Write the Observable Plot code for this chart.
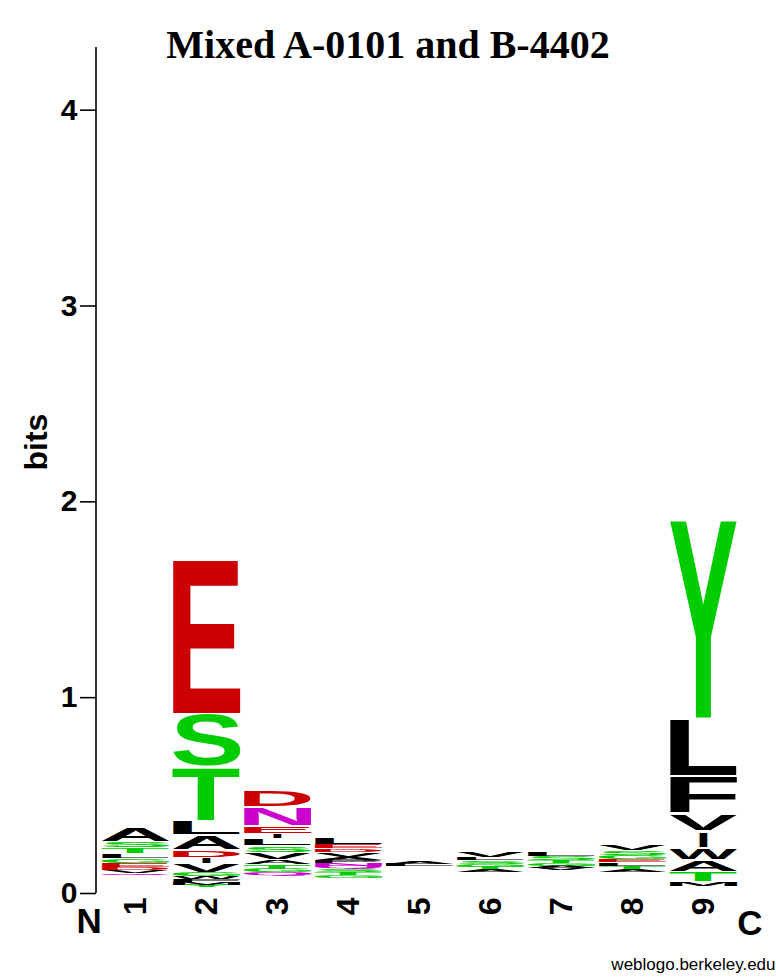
<!DOCTYPE html>
<html>
<head>
<meta charset="utf-8">
<script src="https://cdn.jsdelivr.net/npm/d3@7"></script>
<script src="https://cdn.jsdelivr.net/npm/@observablehq/plot@0.6"></script>
<style>
  body { margin: 0; background: #fff; }
  #chart svg { display: block; }
</style>
</head>
<body>
<div id="chart"></div>
<script>
// Sequence logo: information content (bits) of each residue at positions 1-9.
// Each column lists residues from the bottom of the stack to the top.
const positions = [1, 2, 3, 4, 5, 6, 7, 8, 9];

const letters1 = ["C","W","H","M","Y","F","N","R","K","P","I","Q","V","D","E","G","L","T","S","A"];
const bits1    = [0.006,0.007,0.007,0.008,0.008,0.008,0.008,0.008,0.009,0.009,0.009,0.012,0.016,0.018,0.020,0.022,0.026,0.029,0.032,0.075];

const letters2 = ["C","H","R","P","K","N","Q","Y","M","F","W","G","V","I","D","A","L","T","S","E"];
const bits2    = [0.002,0.003,0.003,0.003,0.004,0.004,0.010,0.012,0.012,0.015,0.018,0.020,0.045,0.030,0.040,0.075,0.072,0.276,0.270,0.787];

const letters3 = ["K","R","M","P","F","W","Y","H","C","Q","G","T","A","V","S","L","I","E","N","D"];
const bits3    = [0.010,0.010,0.010,0.010,0.010,0.010,0.010,0.009,0.009,0.015,0.020,0.022,0.025,0.035,0.035,0.040,0.022,0.040,0.098,0.090];

const letters4 = ["C","W","M","H","Y","R","K","F","I","G","T","S","Q","N","P","A","V","D","E","L"];
const bits4    = [0.006,0.007,0.008,0.008,0.008,0.009,0.009,0.010,0.010,0.015,0.016,0.016,0.016,0.016,0.014,0.016,0.024,0.018,0.020,0.040];

const letters5 = ["C","W","H","M","Y","F","N","Q","R","K","P","I","V","D","E","G","S","T","L","A"];
const bits5    = [0.006,0.007,0.007,0.007,0.007,0.007,0.007,0.008,0.008,0.008,0.008,0.008,0.008,0.008,0.008,0.008,0.009,0.009,0.011,0.012];

const letters6 = ["C","W","H","M","Y","F","N","Q","R","K","P","I","D","E","A","T","G","S","L","V"];
const bits6    = [0.006,0.007,0.007,0.007,0.007,0.007,0.008,0.008,0.008,0.008,0.008,0.009,0.009,0.009,0.011,0.013,0.016,0.018,0.015,0.030];

const letters7 = ["C","W","H","M","Y","F","N","Q","R","K","P","I","D","E","V","A","G","T","S","L"];
const bits7    = [0.007,0.007,0.008,0.008,0.008,0.008,0.008,0.008,0.009,0.009,0.009,0.009,0.009,0.010,0.011,0.011,0.013,0.016,0.020,0.022];

const letters8 = ["C","W","H","M","Y","F","N","Q","R","K","P","I","D","A","T","L","E","G","S","V"];
const bits8    = [0.007,0.007,0.008,0.008,0.008,0.008,0.008,0.008,0.008,0.009,0.009,0.009,0.010,0.016,0.016,0.016,0.018,0.020,0.022,0.030];

const letters9 = ["P","E","D","H","R","K","N","Q","C","G","S","M","T","A","W","I","V","F","L","Y"];
const bits9    = [0.003,0.003,0.003,0.003,0.003,0.004,0.003,0.003,0.003,0.004,0.004,0.020,0.051,0.062,0.063,0.085,0.091,0.190,0.293,1.014];

const yTicks = [0, 1, 2, 3, 4];
const maxBits = 4.32; // log2(20)

// Residue colouring by chemistry
const aminoAcids  = ["G","S","T","Y","C","N","Q","K","R","H","D","E","A","V","L","I","P","W","F","M"];
const aminoColors = ["#00cc00","#00cc00","#00cc00","#00cc00","#00cc00",
                     "#cc00cc","#cc00cc",
                     "#0000cc","#0000cc","#0000cc",
                     "#cc0000","#cc0000",
                     "#000000","#000000","#000000","#000000","#000000","#000000","#000000","#000000"];

const titleText = "Mixed A-0101 and B-4402";
const creditText = "weblogo.berkeley.edu";

// Stack each column's residues
const columns = [
  [letters1, bits1], [letters2, bits2], [letters3, bits3],
  [letters4, bits4], [letters5, bits5], [letters6, bits6],
  [letters7, bits7], [letters8, bits8], [letters9, bits9]
];
const stacked = [];
columns.forEach(([ls, bs], j) => {
  let base = 0;
  ls.forEach((letter, k) => {
    stacked.push({position: positions[j], letter, bits: bs[k], y1: base, y2: base + bs[k]});
    base += bs[k];
  });
});
// glyphs thinner than this are too small to be rasterised
const glyphs = stacked.filter(d => d.bits >= 0.011);

const sans = "'Liberation Sans', Arial, Helvetica, sans-serif";

const chart = Plot.plot({
  width: 776,
  height: 978,
  marginTop: 47,
  marginBottom: 85,
  marginLeft: 96,
  marginRight: 37,
  style: {fontFamily: sans, background: "#fff", color: "#000"},
  x: {type: "band", domain: positions, padding: 0, range: [99.5, 738.5]},
  y: {domain: [0, maxBits]},
  color: {domain: aminoAcids, range: aminoColors},
  marks: [
    Plot.text(glyphs, {
      x: "position", y: "y1", text: "letter", fill: "letter",
      fontSize: 100, fontWeight: "bold", fontFamily: sans,
      textAnchor: "start", lineAnchor: "bottom", ariaLabel: "logo"
    }),
    Plot.axisY({
      ticks: yTicks, tickFormat: d3.format("d"), tickSize: 16, tickPadding: 3,
      fontSize: 30, fontWeight: "bold", strokeWidth: 1.6, label: null
    }),
    Plot.axisX({
      tickSize: 0, tickPadding: 4, tickRotate: -90,
      fontSize: 32, fontWeight: "bold", label: null
    }),
    Plot.text(["bits"], {frameAnchor: "left", rotate: -90, dx: -60, fontSize: 32, fontWeight: "bold"}),
    Plot.text(["N"], {frameAnchor: "bottom-left", dx: -20, dy: 39, fontSize: 35, fontWeight: "bold"}),
    Plot.text(["C"], {frameAnchor: "bottom-right", dx: 23, dy: 41, fontSize: 35, fontWeight: "bold"}),
    Plot.text([titleText], {
      frameAnchor: "top", dx: -30, dy: -18,
      fontFamily: "'Liberation Serif', 'Times New Roman', serif", fontSize: 40, fontWeight: "bold"
    }),
    Plot.text([creditText], {
      frameAnchor: "bottom-right", dx: 36, dy: 76, textAnchor: "end",
      fontSize: 17, fontWeight: "normal"
    })
  ]
});

document.getElementById("chart").append(chart);

// Stretch each glyph so its ink fills its box in the stack
const xs = chart.scale("x");
const ys = chart.scale("y");
const ctx = document.createElement("canvas").getContext("2d");
ctx.font = "bold 100px 'Liberation Sans'";
let letterGroup = chart.querySelector('g[aria-label="logo"]');
if (!letterGroup) letterGroup = chart.querySelector('g[aria-label="text"]');
letterGroup.removeAttribute("transform"); // boxes below are computed from the band start
d3.select(letterGroup).selectAll("text").each(function(_, i) {
  const d = glyphs[i];
  const m = ctx.measureText(d.letter);
  const L = m.actualBoundingBoxLeft, R = m.actualBoundingBoxRight;
  const A = m.actualBoundingBoxAscent, D = m.actualBoundingBoxDescent;
  const band = xs.bandwidth;
  const left = xs.apply(d.position);
  const yb = ys.apply(d.y1), yt = ys.apply(d.y2);
  const inset = Math.min(1, (yb - yt) * 0.08);
  const top = yt + inset, bottom = yb - inset;
  let x0 = left + 1.5, x1 = left + band - 1.5;
  if (d.letter === "I") { // the I keeps its narrow stroke
    const w = band * 0.12;
    x0 = left + band / 2 - w / 2; x1 = left + band / 2 + w / 2;
  }
  const sx = (x1 - x0) / (L + R);
  const sy = (bottom - top) / (A + D);
  this.removeAttribute("x");
  this.removeAttribute("y");
  this.setAttribute("dy", "0");
  this.setAttribute("text-anchor", "start");
  this.setAttribute("transform", `translate(${x0 + L * sx},${top + A * sy}) scale(${sx},${sy})`);
});

// Vertical axis line
d3.select(chart).append("line")
  .attr("x1", 96).attr("x2", 96)
  .attr("y1", ys.apply(maxBits)).attr("y2", ys.apply(0))
  .attr("stroke", "#000").attr("stroke-width", 1.6);
</script>
</body>
</html>
